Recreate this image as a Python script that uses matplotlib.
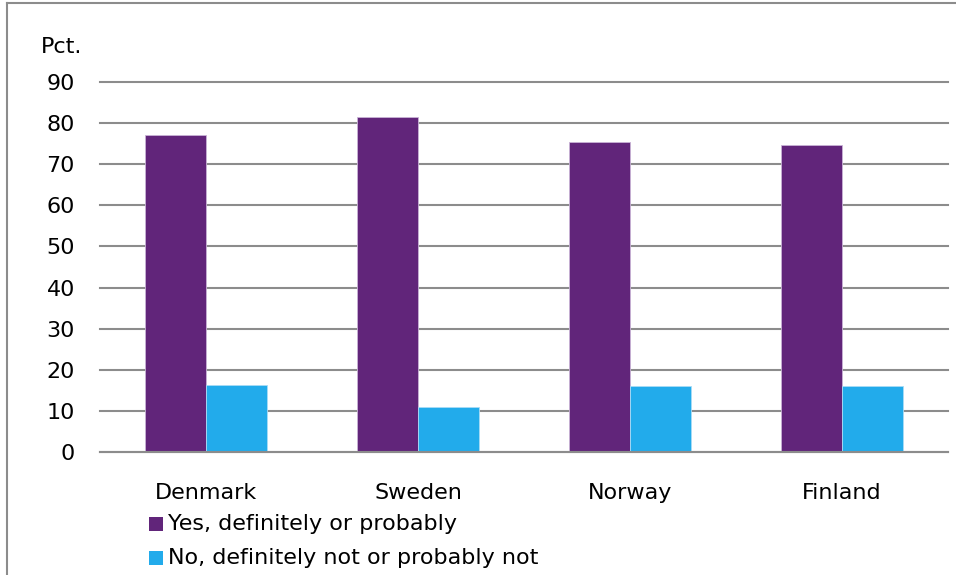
import matplotlib
matplotlib.use('Agg')
import matplotlib.pyplot as plt
import numpy as np
from matplotlib.lines import Line2D
from matplotlib.patches import Rectangle

# Chart data
countries = ['Denmark', 'Sweden', 'Norway', 'Finland']
yes_values = [77.1, 81.5, 75.4, 74.7]
no_values = [16.3, 10.9, 16.1, 16.1]
series_labels = ['Yes, definitely or probably', 'No, definitely not or probably not']
purple = '#61257A'
blue = '#22ABEB'

plt.rcParams['font.family'] = ['DejaVu Sans']
fs = 16

fig = plt.figure(figsize=(9.56, 5.75), dpi=100)
ax = fig.add_axes([100 / 956, 1 - 452 / 575, 848 / 956, 370 / 575])

x = np.arange(len(countries))
w = 0.29
ax.bar(x - w / 2, yes_values, w, color=purple, edgecolor='#c9b3d6', linewidth=0.6, zorder=3)
ax.bar(x + w / 2, no_values, w, color=blue, edgecolor='#a9dcf6', linewidth=0.6, zorder=3)

ax.set_xlim(-0.5, len(countries) - 0.5)
ax.set_ylim(0, 90)
ax.set_yticks(range(0, 91, 10))
ax.set_xticks(x)
ax.set_xticklabels(countries)
ax.tick_params(axis='both', length=0, labelsize=fs, colors='black')
ax.tick_params(axis='x', pad=22)
ax.tick_params(axis='y', pad=18)
ax.grid(axis='y', color='#8c8c8c', linewidth=1.5, zorder=0)
for gl in ax.get_ygridlines():
    gl.set_clip_on(False)
for s in ['top', 'right', 'left']:
    ax.spines[s].set_visible(False)
ax.spines['bottom'].set_color('#8c8c8c')
ax.spines['bottom'].set_linewidth(1.5)
ax.spines['bottom'].set_zorder(4)

fig.text(41 / 956, 1 - 47 / 575, 'Pct.', fontsize=fs, va='center', ha='left')

# legend drawn by hand as two rows under the axis labels
for i, (lab, col) in enumerate(zip(series_labels, [purple, blue])):
    yc = 1 - (524 + i * 34) / 575
    fig.patches.append(Rectangle((149 / 956, yc - 7 / 575), 14 / 956, 14 / 575,
                                 transform=fig.transFigure, facecolor=col, edgecolor='none'))
    fig.text(168 / 956, yc, lab, fontsize=fs, va='center', ha='left')

# outer frame (only top and left are visible)
fig.lines.append(Line2D([7 / 956, 1], [1 - 3 / 575, 1 - 3 / 575], transform=fig.transFigure,
                        color='#8c8c8c', linewidth=1.5))
fig.lines.append(Line2D([7 / 956, 7 / 956], [0, 1 - 3 / 575], transform=fig.transFigure,
                        color='#8c8c8c', linewidth=1.5))

fig.savefig('out.png', dpi=100)
